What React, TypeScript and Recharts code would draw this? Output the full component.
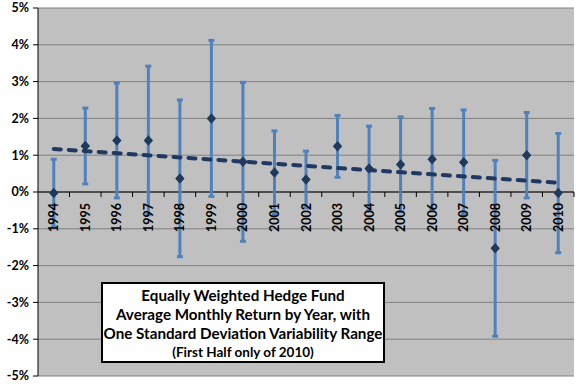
import React from 'react';
import { ComposedChart, Line, XAxis, YAxis, CartesianGrid, ErrorBar, ReferenceLine } from 'recharts';

const years = ['1994', '1995', '1996', '1997', '1998', '1999', '2000', '2001', '2002', '2003', '2004', '2005', '2006', '2007', '2008', '2009', '2010'];
const meanReturn = [-0.03, 1.25, 1.4, 1.4, 0.37, 2.0, 0.82, 0.53, 0.34, 1.24, 0.64, 0.75, 0.89, 0.81, -1.53, 1.0, -0.03];
const stdDev = [0.92, 1.03, 1.56, 2.02, 2.13, 2.12, 2.16, 1.13, 0.77, 0.84, 1.15, 1.29, 1.38, 1.42, 2.39, 1.16, 1.62];
const trendStart = 1.17;
const trendEnd = 0.25;
const yTicks = [-5, -4, -3, -2, -1, 0, 1, 2, 3, 4, 5];
const titleLines = [
  'Equally Weighted Hedge Fund',
  'Average Monthly Return by Year, with',
  'One Standard Deviation Variability Range',
];
const noteLine = '(First Half only of 2010)';

const W = 576;
const H = 384;
const MARGIN = { top: 8, right: 2, bottom: 8, left: 0 };
const Y_AXIS_W = 38;
const BAND = (W - MARGIN.left - MARGIN.right - Y_AXIS_W) / years.length;
const FONT = 'Lato, "Liberation Sans", sans-serif';

const data = years.map((y, i) => ({
  year: y,
  mean: meanReturn[i],
  err: stdDev[i],
  trend: i === 0 ? trendStart : i === years.length - 1 ? trendEnd : null,
  zero: 0,
}));

const Diamond = (p: any) => {
  const { cx, cy, index } = p;
  if (cx == null || cy == null) return <g key={`d-${index}`} />;
  return (
    <path
      key={`d-${index}`}
      d={`M${cx},${cy - 5}L${cx + 4.5},${cy}L${cx},${cy + 5}L${cx - 4.5},${cy}Z`}
      fill="#1F3A5F"
    />
  );
};

const YearLabel = (p: any) => {
  const { cx, cy, index, payload } = p;
  if (cx == null || cy == null) return <g key={`y-${index}`} />;
  const ty = cy + 11;
  return (
    <g key={`y-${index}`}>
      <line x1={cx + BAND / 2} y1={cy} x2={cx + BAND / 2} y2={cy + 5} stroke="#000" strokeWidth={1} />
      <text
        x={cx}
        y={ty}
        transform={`rotate(-90 ${cx} ${ty})`}
        textAnchor="end"
        dy="0.36em"
        fontSize={12.5}
        fontWeight={700}
        fontFamily={FONT}
        fill="#000"
      >
        {payload.year}
      </text>
    </g>
  );
};

export default function App() {
  return (
    <div style={{ position: 'absolute', left: 0, top: 0, width: W, height: H, background: '#fff' }}>
      <ComposedChart width={W} height={H} data={data} margin={MARGIN}>
        <CartesianGrid vertical={false} stroke="#808080" fill="#C0C0C0" />
        <XAxis dataKey="year" type="category" scale="band" hide />
        <YAxis
          type="number"
          domain={[-5, 5]}
          ticks={yTicks}
          width={Y_AXIS_W}
          tickFormatter={(v: number) => `${v}%`}
          axisLine={{ stroke: '#000' }}
          tickLine={{ stroke: '#000' }}
          tickSize={5}
          tickMargin={4}
          tick={{ fill: '#000', fontSize: 12.5, fontWeight: 700, fontFamily: FONT }}
          interval={0}
        />
        <ReferenceLine y={0} stroke="#000" strokeWidth={1} />
        <Line
          dataKey="mean"
          stroke="none"
          dot={Diamond}
          activeDot={false}
          isAnimationActive={false}
        >
          <ErrorBar dataKey="err" width={3} strokeWidth={3} stroke="#4F81BD" direction="y" />
        </Line>
        <Line
          dataKey="trend"
          connectNulls
          stroke="#1F3864"
          strokeWidth={4}
          strokeDasharray="7 8"
          strokeLinecap="round"
          dot={false}
          activeDot={false}
          isAnimationActive={false}
        />
        <Line
          dataKey="mean"
          stroke="none"
          dot={Diamond}
          activeDot={false}
          isAnimationActive={false}
        />
        <Line
          dataKey="zero"
          stroke="none"
          dot={YearLabel}
          activeDot={false}
          isAnimationActive={false}
        />
      </ComposedChart>
      <div
        style={{
          position: 'absolute',
          left: 101,
          top: 282,
          width: 284,
          height: 81,
          boxSizing: 'border-box',
          border: '2px solid #000',
          background: '#fff',
          fontFamily: FONT,
          fontWeight: 700,
          color: '#000',
          textAlign: 'center',
          paddingTop: 2,
          whiteSpace: 'nowrap',
        }}
      >
        {titleLines.map((t) => (
          <div key={t} style={{ fontSize: 15.2, lineHeight: '19px' }}>{t}</div>
        ))}
        <div style={{ fontSize: 13.5, lineHeight: '19px' }}>{noteLine}</div>
      </div>
    </div>
  );
}
